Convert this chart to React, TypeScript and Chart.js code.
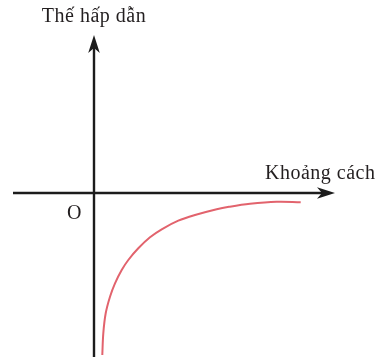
import React, { useEffect, useRef } from "react";
import { Chart, registerables } from "chart.js";

Chart.register(...registerables);

// Curve samples (distance, potential)
const curveX = [0.83, 0.93, 1.17, 1.6, 2.1, 2.77, 3.43, 4.43, 5.6, 6.77, 8.43, 10.1, 12.27, 13.5, 15.6, 18.27, 20.67];
const curveY = [-16.2, -14.03, -12.03, -10.37, -9.03, -7.7, -6.7, -5.53, -4.43, -3.63, -2.77, -2.2, -1.62, -1.38, -1.08, -0.88, -0.92];

// Axis extents in data units
const xAxisRange = [-8.1, 24.1];
const yAxisRange = [-16.4, 15.8];
const viewX = [-9.4, 29.1];
const viewY = [-16.5, 19.3];

const yTitle = "Thế hấp dẫn";
const xTitle = "Khoảng cách";
const originLabel = "O";

const FONT = "20px 'Liberation Serif', 'Times New Roman', serif";

function arrowHead(ctx: CanvasRenderingContext2D, tx: number, ty: number, dx: number, dy: number) {
  const len = 18, half = 5.8, notch = 13;
  const px = -dy, py = dx;
  ctx.beginPath();
  ctx.moveTo(tx, ty);
  ctx.lineTo(tx - dx * len + px * half, ty - dy * len + py * half);
  ctx.lineTo(tx - dx * notch, ty - dy * notch);
  ctx.lineTo(tx - dx * len - px * half, ty - dy * len - py * half);
  ctx.closePath();
  ctx.fill();
}

const axesPlugin = {
  id: "axesArrows",
  beforeDatasetsDraw(chart: any) {
    const { ctx, scales } = chart;
    const xs = scales.x, ys = scales.y;
    const ox = xs.getPixelForValue(0);
    const oy = ys.getPixelForValue(0);
    const xl = xs.getPixelForValue(xAxisRange[0]);
    const xr = xs.getPixelForValue(xAxisRange[1]);
    const yb = ys.getPixelForValue(yAxisRange[0]);
    const yt = ys.getPixelForValue(yAxisRange[1]);
    ctx.save();
    ctx.strokeStyle = "#1c1c1c";
    ctx.fillStyle = "#1c1c1c";
    ctx.lineWidth = 2.4;
    ctx.beginPath();
    ctx.moveTo(xl, oy);
    ctx.lineTo(xr - 12, oy);
    ctx.moveTo(ox, yb);
    ctx.lineTo(ox, yt + 12);
    ctx.stroke();
    arrowHead(ctx, xr, oy, 1, 0);
    arrowHead(ctx, ox, yt, 0, -1);

    ctx.fillStyle = "#231f20";
    ctx.font = FONT;
    ctx.textBaseline = "alphabetic";
    (ctx as any).letterSpacing = "0.5px";
    ctx.textAlign = "center";
    ctx.fillText(yTitle, ox, 22);
    ctx.textAlign = "left";
    ctx.fillText(xTitle, 265, oy - 14);
    (ctx as any).letterSpacing = "0px";
    ctx.fillText(originLabel, ox - 27, oy + 26);
    ctx.restore();
  },
};

export default function App() {
  const ref = useRef<HTMLCanvasElement>(null);
  useEffect(() => {
    document.body.style.margin = "0";
    const chart = new Chart(ref.current!, {
      type: "scatter",
      data: {
        datasets: [
          {
            data: curveX.map((x, i) => ({ x, y: curveY[i] })),
            showLine: true,
            borderColor: "#e2636d",
            borderWidth: 2,
            pointRadius: 0,
            tension: 0.35,
            clip: false as any,
          },
        ],
      },
      options: {
        responsive: false,
        animation: false,
        layout: { padding: 0 },
        plugins: { legend: { display: false }, tooltip: { enabled: false } },
        scales: {
          x: { type: "linear", min: viewX[0], max: viewX[1], display: false },
          y: { type: "linear", min: viewY[0], max: viewY[1], display: false },
        },
      },
      plugins: [axesPlugin],
    });
    return () => chart.destroy();
  }, []);
  return (
    <div style={{ position: "fixed", left: 0, top: 0, width: 385, height: 358, background: "#fff" }}>
      <canvas ref={ref} width={385} height={358} />
    </div>
  );
}
